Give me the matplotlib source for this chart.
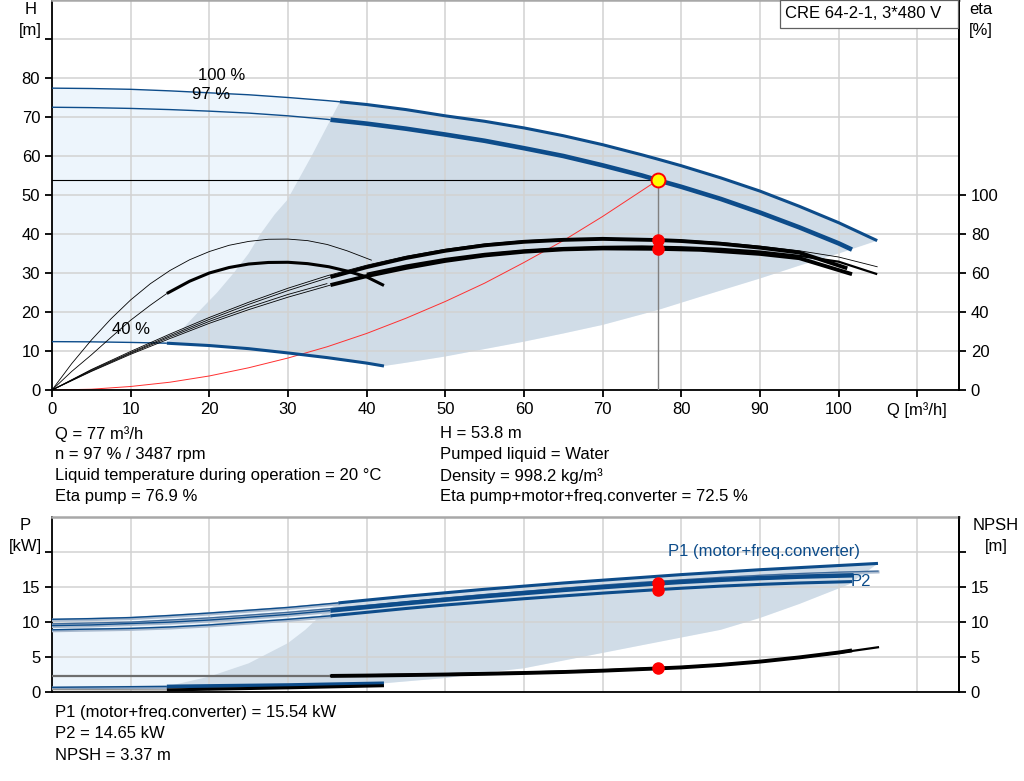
import numpy as np
import matplotlib.pyplot as plt
from matplotlib.patches import Rectangle

plt.rcParams['font.family'] = ['Liberation Sans', 'DejaVu Sans']

BLUE = '#0d4c8a'
HALO = '#a8b9ce'
LIGHT_FILL = '#edf5fc'
DARK_FILL = '#d0dce7'
GRID = '#d2d2d2'

# ---- upper chart: head [m] against flow [m3/h]
q_h100 = [0, 5, 10, 15, 20, 25, 30, 35, 36.6, 40, 45, 50, 55, 60, 65, 70, 75, 77, 80, 85, 90, 95, 100, 104.9]
h_100 = [77.4, 77.3, 77.1, 76.7, 76.2, 75.7, 75.0, 74.2, 73.9, 73.2, 71.9, 70.3, 68.9, 67.2, 65.2, 62.9, 60.3, 59.2, 57.5, 54.4, 51.0, 47.1, 42.9, 38.3]
q_h97 = [0, 5, 10, 15, 20, 25, 30, 35, 35.4, 40, 45, 50, 55, 60, 65, 70, 75, 77, 80, 85, 90, 95, 100, 101.7]
h_97 = [72.5, 72.4, 72.2, 71.9, 71.5, 71.0, 70.3, 69.4, 69.3, 68.3, 67.0, 65.5, 63.9, 62.0, 60.0, 57.6, 55.0, 53.8, 52.1, 49.0, 45.5, 41.7, 37.6, 36.0]
q_h40 = [0, 5, 10, 14.6, 20, 25, 30, 35, 40, 42.2]
h_40 = [12.4, 12.35, 12.2, 12.0, 11.4, 10.6, 9.5, 8.3, 6.9, 6.15]

# boundaries of the recommended area
q_minflow = [14.6, 16.5, 18.6, 21.0, 23.1, 25.0, 26.5, 28.3, 29.9, 33.0, 36.6]
h_minflow = [12.0, 15.5, 20.0, 25.0, 30.0, 35.0, 40.0, 45.0, 48.7, 60.0, 73.9]
q_maxflow = [42.2, 45, 50, 55, 60, 65, 70, 77, 82.4, 90, 95, 100, 104.9]
h_maxflow = [6.15, 7.0, 8.6, 10.5, 12.4, 14.5, 16.7, 20.5, 23.9, 28.6, 31.9, 35.0, 38.3]

# system curve
q_sys = [0, 5, 10, 15, 20, 25, 30, 35, 40, 45, 50, 55, 60, 65, 70, 77]
h_sys = [0, 0.2, 0.9, 2.0, 3.6, 5.7, 8.2, 11.1, 14.5, 18.4, 22.7, 27.4, 32.7, 38.3, 44.5, 53.8]

# efficiency curves [%]
q_eta100 = [0, 5, 10, 15, 20, 25, 30, 35, 40, 45, 50, 55, 60, 65, 70, 75, 80, 85, 90, 95, 100, 104.9]
eta_pump100 = [0, 10.5, 19.8, 28.7, 37.2, 45.0, 52.2, 58.6, 64.0, 68.6, 72.2, 74.9, 76.6, 77.5, 77.8, 77.6, 76.9, 75.7, 73.8, 71.4, 68.2, 63.2]
eta_tot100 = [0, 9.8, 18.8, 27.2, 35.2, 42.4, 49.0, 54.6, 59.6, 63.8, 67.2, 69.8, 71.6, 72.8, 73.4, 73.6, 73.2, 72.4, 71.0, 68.8, 65.8, 59.4]
q_eta97 = [0, 5, 10, 15, 20, 25, 30, 35.4, 40, 45, 50, 55, 60, 65, 70, 77, 80, 85, 90, 95, 101.1]
eta_pump97 = [0, 10.2, 19.2, 27.9, 36.2, 43.9, 51.0, 57.9, 63.0, 67.7, 71.4, 74.2, 76.0, 77.0, 77.5, 76.9, 76.4, 75.0, 73.0, 70.5, 62.4]
q_eta97t = [0, 5, 10, 15, 20, 25, 30, 35.4, 40, 45, 50, 55, 60, 65, 70, 77, 82.4, 90, 95, 101.7]
eta_tot97 = [0, 9.5, 18.3, 26.4, 34.2, 41.2, 47.6, 53.8, 58.4, 62.6, 66.2, 69.0, 70.9, 72.1, 72.6, 72.4, 71.9, 69.8, 67.6, 59.4]
q_eta40p = [0, 2.5, 5, 7.5, 10, 12.5, 15, 17.5, 20, 22.5, 25, 27.5, 30, 32.5, 35, 37.5, 40.6]
eta_pump40 = [0, 13.5, 25.6, 36.5, 46.2, 54.5, 61.3, 66.8, 71.0, 74.2, 76.2, 77.3, 77.4, 76.6, 74.6, 71.4, 66.6]
q_eta40t = [0, 2.5, 5, 7.5, 10, 12.5, 14.6, 17.5, 20, 22.5, 25, 27.5, 30, 32.5, 35.2, 37.5, 40, 42.2]
eta_tot40 = [0, 9.5, 18.0, 27.0, 35.8, 43.5, 49.5, 55.8, 60.0, 62.8, 64.6, 65.4, 65.5, 64.8, 63.2, 61.0, 58.0, 53.6]

# duty point
q_duty = 77
h_duty = 53.8
eta_duty = [76.9, 72.3]

# ---- lower chart: power [kW] and NPSH [m]
q_p1_100 = [0, 5, 10, 15, 20, 25, 30, 36.4, 40, 45, 50, 55, 60, 65, 70, 75, 80, 85, 90, 95, 100, 105]
p1_100 = [10.4, 10.5, 10.65, 10.95, 11.3, 11.7, 12.1, 12.75, 13.15, 13.7, 14.2, 14.7, 15.15, 15.6, 16.0, 16.4, 16.8, 17.15, 17.5, 17.8, 18.1, 18.4]
q_p2_100 = [0, 10, 20, 30, 40, 45, 50, 55, 60, 65, 70, 75, 80, 85, 90, 95, 100, 105]
p2_100 = [9.75, 10.0, 10.6, 11.4, 12.4, 12.9, 13.45, 13.95, 14.4, 14.85, 15.3, 15.7, 16.05, 16.4, 16.7, 16.95, 17.15, 17.3]
q_p1_97 = [0, 5, 10, 15, 20, 25, 30, 35.4, 40, 45, 50, 55, 60, 65, 70, 77, 80, 85, 90, 95, 101.9]
p1_97 = [9.5, 9.6, 9.8, 10.0, 10.3, 10.7, 11.1, 11.65, 12.15, 12.7, 13.2, 13.7, 14.15, 14.6, 15.0, 15.54, 15.75, 16.05, 16.3, 16.5, 16.7]
q_p2_97 = [0, 5, 10, 15, 20, 25, 30, 35.4, 40, 45, 50, 55, 60, 65, 70, 77, 80, 85, 90, 95, 101.7]
p2_97 = [8.9, 9.0, 9.1, 9.3, 9.6, 10.0, 10.4, 10.9, 11.4, 11.95, 12.45, 12.9, 13.35, 13.75, 14.15, 14.65, 14.85, 15.15, 15.4, 15.6, 15.8]
q_p40 = [0, 14.6, 20, 30, 42.2]
p1_40 = [0.67, 0.8, 0.87, 1.0, 1.25]
p2_40 = [0.45, 0.6, 0.68, 0.8, 1.05]

q_pmin = [14.6, 20, 25, 30, 32.2, 34.5, 36.4]
p_pmin = [0.8, 2.2, 4.1, 7.0, 8.9, 11.3, 12.75]
q_pmax = [42.2, 50, 54.5, 60, 70, 80, 85, 90, 95, 101.3, 105]
p_pmax = [1.25, 2.0, 2.7, 3.4, 5.6, 7.8, 8.9, 10.6, 12.6, 15.4, 18.4]

q_npsh97 = [0, 35.4, 40, 45, 50, 55, 60, 65, 70, 77, 80, 85, 90, 95, 100, 101.7]
npsh97 = [2.3, 2.3, 2.35, 2.42, 2.5, 2.6, 2.72, 2.86, 3.05, 3.37, 3.52, 3.88, 4.35, 4.95, 5.65, 5.95]
q_npsh100 = [35.4, 40, 50, 60, 70, 80, 85, 90, 95, 100, 105]
npsh100 = [2.3, 2.4, 2.55, 2.78, 3.1, 3.55, 3.9, 4.35, 4.95, 5.6, 6.4]
q_npsh40 = [0, 14.6, 20, 30, 42.2]
npsh40 = [0.35, 0.3, 0.4, 0.6, 0.9]

duty_p = [15.54, 14.65]
duty_npsh = 3.37


def two_weight(ax, q, v, q_from, color, lw_thin, lw_thick, thin_color=None, halo=False):
    q = np.asarray(q)
    v = np.asarray(v)
    thin = q <= q_from
    if halo:
        ax.plot(q[thin], v[thin] - 0.12, color=HALO, lw=lw_thin + 1.4, zorder=2.9)
    ax.plot(q[thin], v[thin], color=thin_color or color, lw=lw_thin,
            solid_capstyle='butt', zorder=3)
    ax.plot(q[q >= q_from], v[q >= q_from], color=color, lw=lw_thick,
            solid_capstyle='butt', zorder=3)


def style_axes(ax):
    for side in ('left', 'bottom', 'right'):
        ax.spines[side].set_linewidth(1.3)
        ax.spines[side].set_color('black')
    ax.spines['top'].set_color('#a8a8a8')
    ax.spines['top'].set_linewidth(1.8)
    ax.set_axisbelow(True)
    ax.grid(True, color=GRID, lw=1.1)
    ax.tick_params(labelsize=12, length=5, width=1.3)


fig = plt.figure(figsize=(10.24, 7.81), dpi=100)
W, H = 1024, 781
x0, x1 = 52, 959

# ------------- upper chart
ax = fig.add_axes([x0 / W, 1 - 390 / H, (x1 - x0) / W, 390 / H])
style_axes(ax)
ax.set_xlim(0, 115.3)
ax.set_ylim(0, 100)
ax.set_xticks(range(0, 120, 10))
ax.set_xticklabels([str(v) for v in range(0, 110, 10)] + ['Q [m³/h]'])
ax.set_yticks(range(0, 100, 10))
ax.set_yticklabels([str(v) for v in range(0, 90, 10)] + [''])
ax.yaxis.get_major_ticks()[-1].tick1line.set_visible(False)

light_q = np.concatenate([q_h100, q_maxflow[::-1], q_h40[::-1]])
light_h = np.concatenate([h_100, h_maxflow[::-1], h_40[::-1]])
ax.fill(light_q, light_h, color=LIGHT_FILL, lw=0, zorder=0.2)

q100 = np.asarray(q_h100)
h100 = np.asarray(h_100)
q40 = np.asarray(q_h40)
h40 = np.asarray(h_40)
dark_q = np.concatenate([q_minflow, q100[q100 > 36.6], q_maxflow[::-1][1:], q40[q40 >= 14.6][::-1][1:]])
dark_h = np.concatenate([h_minflow, h100[q100 > 36.6], h_maxflow[::-1][1:], h40[q40 >= 14.6][::-1][1:]])
ax.fill(dark_q, dark_h, color=DARK_FILL, lw=0, zorder=0.3)

two_weight(ax, q_h100, h_100, 36.6, BLUE, 1.0, 2.2)
two_weight(ax, q_h97, h_97, 35.4, BLUE, 1.0, 3.3)
two_weight(ax, q_h40, h_40, 14.6, BLUE, 1.0, 2.2)
ax.plot(q_sys, h_sys, color='#ff3030', lw=0.7, zorder=2.5)
ax.plot([0, q_duty], [h_duty, h_duty], color='black', lw=0.8, zorder=2.6)
ax.plot([q_duty, q_duty], [0, h_duty], color='#808080', lw=1.0, zorder=2.6)

ax.text(18.5, 80.6, '100 %', fontsize=12, va='center', ha='left', zorder=6)
ax.text(17.8, 75.7, '97 %', fontsize=12, va='center', ha='left', zorder=6)
ax.text(7.6, 15.4, '40 %', fontsize=12, va='center', ha='left', zorder=6)

# model label box in the top right corner
fig.patches.append(Rectangle((780 / W, 1 - 28 / H), 178 / W, 28 / H, transform=fig.transFigure,
                             fc='white', ec='#606060', lw=0.9, zorder=10))
fig.text(785 / W, 1 - 14 / H, 'CRE 64-2-1, 3*480 V', fontsize=12, va='center', zorder=11)

eta_ax = ax.twinx()
eta_ax.set_ylim(0, 200)
eta_ax.set_yticks(range(0, 120, 20))
eta_ax.tick_params(labelsize=12, length=5, width=1.3)
for side in ('left', 'top', 'bottom'):
    eta_ax.spines[side].set_visible(False)
eta_ax.spines['right'].set_linewidth(1.3)

eta_ax.plot(q_eta40p, eta_pump40, color='black', lw=0.6, zorder=3)
two_weight(eta_ax, q_eta40t, eta_tot40, 14.6, 'black', 0.6, 2.2)
eta_ax.plot(q_eta100, eta_pump100, color='black', lw=0.6, zorder=3)
two_weight(eta_ax, q_eta100, eta_tot100, 36.6, 'black', 0.6, 1.6)
two_weight(eta_ax, q_eta97, eta_pump97, 35.4, 'black', 0.6, 2.8)
two_weight(eta_ax, q_eta97t, eta_tot97, 35.4, 'black', 0.6, 2.8)
eta_ax.plot([q_duty] * 2, eta_duty, 'o', color='red', ms=8, mec='red', zorder=5)
ax.plot([q_duty], [h_duty], 'o', ms=10, mfc='#ffff00', mec='red', mew=1.4, zorder=6)

fig.text(30.5 / W, 1 - 10 / H, 'H', fontsize=12, ha='center', va='center')
fig.text(30.5 / W, 1 - 30 / H, '[m]', fontsize=12, ha='center', va='center')
fig.text(981 / W, 1 - 10 / H, 'eta', fontsize=12, ha='center', va='center')
fig.text(981 / W, 1 - 30 / H, '[%]', fontsize=12, ha='center', va='center')

info_left = ['Q = 77 m³/h', 'n = 97 % / 3487 rpm',
             'Liquid temperature during operation = 20 °C', 'Eta pump = 76.9 %']
info_right = ['H = 53.8 m', 'Pumped liquid = Water', 'Density = 998.2 kg/m³',
              'Eta pump+motor+freq.converter = 72.5 %']
for i, (a, b) in enumerate(zip(info_left, info_right)):
    y = 1 - (434 + 21 * i) / H
    fig.text(55 / W, y, a, fontsize=12, va='center')
    fig.text(440 / W, y, b, fontsize=12, va='center')

# ------------- lower chart
bx = fig.add_axes([x0 / W, 1 - 692 / H, (x1 - x0) / W, (692 - 517.3) / H])
style_axes(bx)
bx.set_xlim(0, 115.3)
bx.set_ylim(0, 25)
bx.set_xticks(range(0, 120, 10))
bx.tick_params(axis='x', length=0, labelbottom=False)
bx.set_yticks(range(0, 25, 5))
bx.set_yticklabels(['0', '5', '10', '15', ''])

qp = np.asarray(q_p1_100)
pp = np.asarray(p1_100)
qp40 = np.asarray(q_p40)
pp40 = np.asarray(p1_40)
light_q = np.concatenate([q_p1_100, q_pmax[::-1], q_p40[::-1]])
light_p = np.concatenate([p1_100, p_pmax[::-1], p1_40[::-1]])
bx.fill(light_q, light_p, color=LIGHT_FILL, lw=0, zorder=0.2)
dark_q = np.concatenate([q_pmin, qp[qp > 36.4], q_pmax[::-1][1:], qp40[qp40 >= 14.6][::-1][1:]])
dark_p = np.concatenate([p_pmin, pp[qp > 36.4], p_pmax[::-1][1:], pp40[qp40 >= 14.6][::-1][1:]])
bx.fill(dark_q, dark_p, color=DARK_FILL, lw=0, zorder=0.3)

two_weight(bx, q_p1_100, p1_100, 36.4, BLUE, 1.0, 2.2, halo=True)
bx.plot(q_p2_100, np.asarray(p2_100) - 0.12, color=HALO, lw=2.2, zorder=2.9)
bx.plot(q_p2_100, p2_100, color='#3f6a9a', lw=0.9, zorder=3)
two_weight(bx, q_p1_97, p1_97, 35.4, BLUE, 1.0, 3.2, halo=True)
two_weight(bx, q_p2_97, p2_97, 35.4, BLUE, 1.0, 2.2, halo=True)
two_weight(bx, q_p40, p2_40, 14.6, BLUE, 0.8, 0.8, thin_color='#7f9cbd')
two_weight(bx, q_p40, p1_40, 14.6, BLUE, 1.0, 2.6, halo=True)
bx.plot(q_duty * np.ones(2), duty_p, 'o', color='red', ms=8, zorder=5)

bx.text(78.3, 20.1, 'P1 (motor+freq.converter)', color=BLUE, fontsize=12, va='center')
bx.text(101.5, 15.8, 'P2', color=BLUE, fontsize=12, va='center')

npsh_ax = bx.twinx()
npsh_ax.set_ylim(0, 25)
npsh_ax.set_yticks(range(0, 25, 5))
npsh_ax.set_yticklabels(['0', '5', '10', '15', ''])
npsh_ax.tick_params(labelsize=12, length=5, width=1.3)
for side in ('left', 'top', 'bottom'):
    npsh_ax.spines[side].set_visible(False)
npsh_ax.spines['right'].set_linewidth(1.3)

npsh_ax.plot(q_npsh100, npsh100, color='black', lw=1.6, zorder=3)
two_weight(npsh_ax, q_npsh97, npsh97, 35.4, 'black', 1.6, 2.8, thin_color='#6e6e6e')
two_weight(npsh_ax, q_npsh40, npsh40, 14.6, 'black', 1.0, 2.2, thin_color='#909090')
npsh_ax.plot([q_duty], [duty_npsh], 'o', color='red', ms=8, zorder=5)

fig.text(25.5 / W, 1 - 526 / H, 'P', fontsize=12, ha='center', va='center')
fig.text(25.5 / W, 1 - 547 / H, '[kW]', fontsize=12, ha='center', va='center')
fig.text(996 / W, 1 - 526 / H, 'NPSH', fontsize=12, ha='center', va='center')
fig.text(996 / W, 1 - 547 / H, '[m]', fontsize=12, ha='center', va='center')

info_bottom = ['P1 (motor+freq.converter) = 15.54 kW', 'P2 = 14.65 kW', 'NPSH = 3.37 m']
for i, line in enumerate(info_bottom):
    fig.text(55 / W, 1 - (713 + 21 * i) / H, line, fontsize=12, va='center')

fig.savefig('out.png', dpi=100, facecolor='white')
